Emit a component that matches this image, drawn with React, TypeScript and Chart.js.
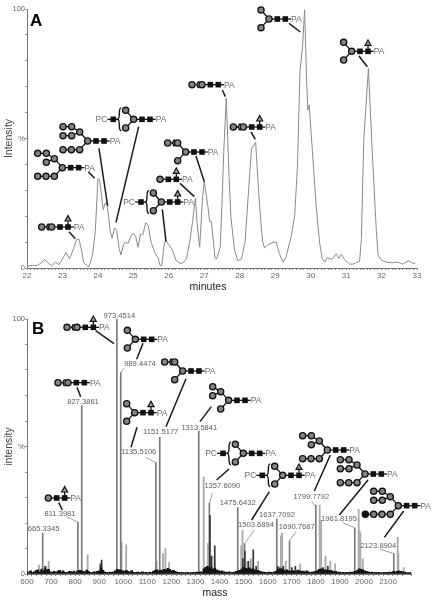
import React, { useEffect, useRef } from "react";
import { Chart, registerables } from "chart.js";

Chart.register(...registerables);

const FONT = '"Liberation Sans", Arial, sans-serif';

// ---------- Panel A: chromatogram ----------
const lcMinutes = [
  22.0, 22.05, 22.15, 22.3, 22.4, 22.5, 22.6, 22.7, 22.8, 22.9, 23.0, 23.1, 23.2, 23.3, 23.4, 23.47, 23.55, 23.6, 23.7, 23.75,
  23.85, 23.93, 24.0, 24.05, 24.1, 24.15, 24.2, 24.25, 24.3, 24.35, 24.4, 24.47, 24.53, 24.6, 24.65, 24.72, 24.78, 24.85, 24.92, 25.0,
  25.07, 25.13, 25.2, 25.27, 25.35, 25.42, 25.5, 25.6, 25.7, 25.75, 25.8, 25.88, 25.93, 26.0, 26.1, 26.2, 26.3, 26.4, 26.5, 26.6,
  26.67, 26.75, 26.8, 26.87, 26.95, 27.0, 27.1, 27.15, 27.2, 27.3, 27.35, 27.45, 27.5, 27.55, 27.62, 27.7, 27.75, 27.85, 27.95, 28.05,
  28.15, 28.25, 28.33, 28.45, 28.53, 28.6, 28.65, 28.7, 28.8, 28.95, 29.03, 29.12, 29.22, 29.3, 29.45, 29.55, 29.63, 29.7, 29.77, 29.83,
  29.88, 29.92, 29.96, 30.05, 30.15, 30.25, 30.33, 30.4, 30.47, 30.6, 30.72, 30.8, 30.87, 30.95, 31.1, 31.2, 31.3, 31.38, 31.43, 31.5,
  31.63, 31.72, 31.85, 31.9, 32.0, 32.15, 32.3, 32.4, 32.5, 32.6, 32.75, 32.85, 32.95,
];
const lcIntensity = [
  0.3, 0.8, 1, 1, 2, 3.2, 2, 0.8, 2.3, 1.3, 3.5, 6, 3.5, 7, 11, 11, 6, 2, 0.8, 0.5,
  5, 15, 34.5, 34, 28, 22.5, 25, 25, 20, 14, 11.5, 15.5, 14.5, 7.5, 5, 9, 10, 9.5, 12, 13.5,
  12, 8, 13, 13, 17.5, 16.5, 10, 6, 4, 1, 1, 10, 10.5, 9, 7, 3, 1.8, 2, 3.5, 11,
  18, 27, 17, 8, 27, 33.5, 24, 18, 18, 4, 3.5, 8, 25, 45, 65.5, 35, 20, 7, 2.8, 3.5,
  10, 30, 46, 48.5, 30, 17, 10, 7.8, 9, 10, 10, 5.5, 2.3, 4, 12, 20, 40, 76, 85, 99.7,
  75, 61, 63, 45, 25, 10, 3.5, 2.3, 4, 3.3, 5.5, 3.8, 5.3, 3.3, 1.5, 1.5, 2.2, 2.5, 11, 50,
  77, 50, 15, 5, 3, 2.2, 2, 2.3, 2, 1.5, 2.8, 2, 1.8,
];

// ---------- Panel B: mass spectrum ----------
const labelledMz = [665.3345, 811.3981, 827.3861, 973.4514, 989.4474, 1135.5106, 1151.5177, 1313.5841, 1357.609, 1475.6432, 1503.6894, 1637.7092, 1690.7687, 1799.7792, 1961.8195, 2123.8904];
const labelledIntensity = [16, 20.3, 66, 100, 79, 43.7, 53.7, 56, 27.7, 26, 11.8, 21.5, 13, 27, 18, 8];
const labelledText = ["665.3345", "811.3981", "827.3861", "973.4514", "989.4474", "1135.5106", "1151.5177", "1313.5841", "1357.6090", "1475.6432", "1503.6894", "1637.7092", "1690.7687", "1799.7792", "1961.8195", "2123.8904"];

const sideMz = [650, 680, 690, 852, 993, 1012, 1138, 1165, 1175, 1190, 1334, 1352, 1370, 1380, 1490, 1495, 1515, 1530, 1540, 1560, 1655, 1660, 1675, 1735, 1816, 1822, 1840, 1860, 1880, 1978, 1982, 1985, 1995, 2140, 2143, 2165];
const sideIntensity = [3.5, 3, 5, 7.5, 12.3, 11.4, 5, 8, 10, 4.5, 38, 12, 7, 4, 11, 17, 5, 6, 4, 5, 15, 16, 5, 4, 27, 21, 7, 5, 4, 25.4, 17, 16, 6, 14.4, 8, 2.5];

const darkMz = [660, 675, 905, 910, 1360, 1365, 1380, 1497, 1505, 1520, 1540, 1552, 1642, 1650, 1665, 1700, 1715, 1830, 1850];
const darkIntensity = [2, 3, 4, 5.5, 23, 7, 11, 6, 9, 5, 9.5, 3, 3, 2.5, 3, 2.5, 3, 2.5, 3];

const noiseMz = [
  600, 607, 615, 622, 630, 638, 645, 653, 660, 668, 675, 683, 690, 698, 705, 713, 720, 728, 735, 743, 750, 758, 765, 773, 780, 788, 795, 803, 810, 818,
  825, 833, 840, 848, 855, 863, 870, 878, 885, 893, 900, 908, 915, 923, 930, 938, 945, 953, 960, 968, 975, 983, 990, 998, 1005, 1013, 1020, 1028, 1035, 1043,
  1050, 1058, 1065, 1073, 1080, 1088, 1095, 1103, 1110, 1118, 1125, 1133, 1140, 1148, 1155, 1163, 1170, 1178, 1185, 1193, 1200, 1208, 1215, 1223, 1230, 1238, 1245, 1253, 1260, 1268,
  1275, 1283, 1290, 1298, 1305, 1313, 1320, 1328, 1335, 1343, 1350, 1358, 1365, 1373, 1380, 1388, 1395, 1403, 1410, 1418, 1425, 1433, 1440, 1448, 1455, 1463, 1470, 1478, 1485, 1493,
  1500, 1508, 1515, 1523, 1530, 1538, 1545, 1553, 1560, 1568, 1575, 1583, 1590, 1598, 1605, 1613, 1620, 1628, 1635, 1643, 1650, 1658, 1665, 1673, 1680, 1688, 1695, 1703, 1710, 1718,
  1725, 1733, 1740, 1748, 1755, 1763, 1770, 1778, 1785, 1793, 1800, 1808, 1815, 1823, 1830, 1838, 1845, 1853, 1860, 1868, 1875, 1883, 1890, 1898, 1905, 1913, 1920, 1928, 1935, 1943,
  1950, 1958, 1965, 1973, 1980, 1988, 1995, 2003, 2010, 2018, 2025, 2033, 2040, 2048, 2055, 2063, 2070, 2078, 2085, 2093, 2100, 2108, 2115, 2123, 2130, 2138, 2145, 2153, 2160, 2168, 2175, 2183, 2190, 2196,
];
const noiseIntensity = [
  1, 0.6, 1.2, 0.7, 0.9, 1.3, 1.6, 0.8, 1.5, 1.2, 2, 1.6, 1.8, 0.9, 0.7, 1, 0.6, 1.1, 1.4, 0.8, 1.2, 0.7, 0.6, 0.9, 1, 0.7, 1.1, 0.6, 1.2, 1.4,
  1.3, 1, 0.9, 1.5, 1, 0.7, 0.6, 0.9, 0.8, 1, 1.2, 2.4, 1.4, 0.9, 0.7, 0.6, 0.8, 0.7, 0.9, 1.3, 1.8, 1.6, 1.5, 1.2, 1.1, 1.4, 1, 0.8, 1.3, 0.7,
  0.6, 0.8, 0.7, 0.6, 0.9, 0.6, 0.7, 0.5, 0.8, 0.6, 1, 1.4, 1.6, 1.2, 1.5, 1.3, 1.8, 1.6, 2.2, 1.8, 1.2, 1.4, 1, 0.8, 0.7, 0.6, 0.7, 0.5, 0.6, 0.7,
  0.5, 0.6, 0.7, 0.6, 0.8, 0.7, 0.9, 0.8, 2, 2.6, 3, 2.2, 2.5, 1.8, 2.2, 1.6, 1.3, 1, 1.2, 0.9, 0.8, 0.7, 0.9, 0.6, 0.7, 0.8, 1, 1.2, 1.4, 2,
  2.5, 2.2, 2, 2.4, 1.8, 2, 1.6, 1.3, 1.4, 1, 0.9, 0.8, 0.7, 0.6, 0.8, 0.7, 0.6, 0.9, 1, 1.6, 1.8, 2, 1.5, 1.3, 1.6, 1.2, 1, 1.3, 1.1, 0.9,
  1.5, 1.2, 1, 1.1, 0.9, 1.2, 0.8, 0.7, 0.8, 0.9, 1, 1.4, 1.8, 2, 1.8, 1.5, 1.6, 1.3, 1.4, 1.2, 0.9, 1, 0.7, 0.8, 0.6, 0.7, 0.6, 0.7, 0.6, 0.8,
  0.7, 0.9, 1, 1.4, 2, 1.8, 1.6, 1.2, 1, 0.9, 0.7, 0.8, 0.6, 0.7, 0.6, 0.7, 0.5, 0.6, 0.7, 0.6, 0.7, 0.8, 0.7, 1, 0.9, 1, 1.2, 1, 0.9, 0.8, 0.6, 0.5, 0.6, 0.5,
];

// ---------- Glycan drawings (annotation artwork; units are reference px x3, offsets from the branching hexose) ----------
type N = [number, number, number, boolean?];
const T: Record<string, N[]> = {
  none: [],
  bracketLeft: [[-30, 0, -2]],
  y: [[-24, -27, -1], [-24, 26, -1]],
  yBracket: [[-24, -27, -1], [-54, -27, -2], [-24, 26, -1]],
  man5: [[-24, -26, -1], [-48, -41, 0], [-48, -14, 0], [-24, 26, -1]],
  tri2: [[-24, -27, -1], [-48, -43, 0], [-74, -43, 1], [-48, -16, 0], [-24, 26, -1], [-49, 26, 4], [-74, 26, 5]],
  tri3: [[-24, -27, -1], [-48, -43, 0], [-74, -43, 1], [-48, -16, 0], [-74, -16, 3], [-24, 26, -1], [-49, 26, 5], [-74, 26, 6]],
  tri4: [[-24, -27, -1], [-48, -43, 0], [-74, -43, 1], [-48, -16, 0], [-74, -16, 3], [-24, 26, -1], [-49, 26, 5], [-74, 26, 6], [-99, 26, 7, true]],
};
type Gly = { o: [number, number]; t: string; fuc?: boolean; pc?: boolean; leader: [number, number, number, number] };
const glycansA: Gly[] = [
  { o: [155, 681], t: "bracketLeft", fuc: true, leader: [207, 695, 226, 716] },
  { o: [187, 503], t: "tri2", leader: [265, 515, 284, 535] },
  { o: [263, 423], t: "tri3", leader: [297, 445, 323, 618] },
  { o: [401, 358], t: "y", pc: true, leader: [416, 380, 348, 667] },
  { o: [484, 606], t: "y", pc: true, fuc: true, leader: [487, 628, 498, 725] },
  { o: [480, 538], t: "none", fuc: true, leader: [540, 550, 583, 590] },
  { o: [557, 456], t: "yBracket", leader: [588, 468, 613, 545] },
  { o: [606, 254], t: "bracketLeft", leader: [667, 270, 676, 290] },
  { o: [730, 381], t: "bracketLeft", fuc: true, leader: [753, 396, 766, 418] },
  { o: [807, 57], t: "y", leader: [867, 70, 901, 96] },
  { o: [1055, 154], t: "y", fuc: true, leader: [1077, 168, 1102, 200] },
];
const glycansB: Gly[] = [
  { o: [231, 82], t: "bracketLeft", fuc: true, leader: [287, 92, 342, 131] },
  { o: [406, 118], t: "y", leader: [429, 130, 410, 178] },
  { o: [204, 248], t: "bracketLeft", leader: [231, 262, 242, 290] },
  { o: [404, 338], t: "y", fuc: true, leader: [411, 382, 393, 442] },
  { o: [548, 213], t: "yBracket", leader: [558, 236, 498, 380] },
  { o: [145, 594], t: "none", fuc: true, leader: [176, 607, 187, 630] },
  { o: [686, 301], t: "man5", leader: [634, 320, 600, 365] },
  { o: [730, 460], t: "y", pc: true, leader: [687, 507, 650, 540] },
  { o: [848, 526], t: "y", pc: true, fuc: true, leader: [808, 575, 755, 660] },
  { o: [982, 450], t: "tri2", leader: [991, 465, 943, 573] },
  { o: [1095, 522], t: "tri3", leader: [1104, 540, 1018, 645] },
  { o: [1195, 617], t: "tri4", leader: [1211, 633, 1153, 712] },
];
// label centre and optional thin leader, in the same order as labelledText
const labelSpots: [number, number, number[]?][] = [
  [131, 688], [180, 641, [235, 667, 200, 650]], [249, 306], [358, 47], [420, 193, [361, 220, 372, 205]],
  [416, 456, [467, 488, 437, 472]], [482, 396], [598, 383], [667, 559, [628, 612, 637, 578]], [713, 608],
  [768, 675, [733, 732, 763, 690]], [831, 644], [890, 681, [868, 722, 888, 695]], [934, 592, [947, 620, 935, 604]],
  [1017, 657, [1064, 683, 1028, 668]], [1135, 738, [1180, 760, 1140, 748]],
];

const INK = "#141414";
const GREY = "#6e6e6e";

function drawBrace(c: CanvasRenderingContext2D, x: number, y: number, h: number) {
  c.beginPath();
  c.moveTo(x + 2, y - h);
  c.quadraticCurveTo(x, y - h, x, y - h / 2);
  c.quadraticCurveTo(x, y, x - 2, y);
  c.quadraticCurveTo(x, y, x, y + h / 2);
  c.quadraticCurveTo(x, y + h, x + 2, y + h);
  c.lineWidth = 1.4;
  c.strokeStyle = INK;
  c.stroke();
}
function seg(c: CanvasRenderingContext2D, a: number, b: number, d: number, e: number, lw = 1.3, col = INK) {
  c.beginPath();
  c.moveTo(a, b);
  c.lineTo(d, e);
  c.lineWidth = lw;
  c.strokeStyle = col;
  c.stroke();
}
function circle(c: CanvasRenderingContext2D, x: number, y: number, dark?: boolean) {
  c.beginPath();
  c.arc(x, y, 3.1, 0, Math.PI * 2);
  c.fillStyle = dark ? "#111" : "#858585";
  c.fill();
  c.lineWidth = 1.3;
  c.strokeStyle = INK;
  c.stroke();
}
function square(c: CanvasRenderingContext2D, x: number, y: number) {
  c.fillStyle = "#111";
  c.fillRect(x - 2.8, y - 2.8, 5.6, 5.6);
}
function drawGlycan(c: CanvasRenderingContext2D, g: Gly) {
  const u = (v: number) => v / 3;
  const ox = u(g.o[0]);
  const oy = u(g.o[1]);
  const nodes = T[g.t];
  const pos = nodes.map((n) => [ox + u(n[0]), oy + u(n[1])]);
  seg(c, ox, oy, ox + u(66), oy);
  nodes.forEach((n, i) => {
    if (n[2] === -1) seg(c, ox, oy, pos[i][0], pos[i][1]);
    else if (n[2] >= 0) seg(c, pos[n[2]][0], pos[n[2]][1], pos[i][0], pos[i][1]);
    else {
      const right = g.t === "yBracket" ? pos[0] : [ox, oy];
      drawBrace(c, (pos[i][0] + right[0]) / 2 + 0.6, pos[i][1], 3);
    }
  });
  nodes.forEach((n, i) => circle(c, pos[i][0], pos[i][1], n[3]));
  circle(c, ox, oy);
  square(c, ox + u(25), oy);
  square(c, ox + u(49), oy);
  if (g.fuc) {
    const tx = ox + u(49);
    const ty = oy - 8;
    seg(c, tx, oy, tx, ty);
    c.beginPath();
    c.moveTo(tx, ty - 3.4);
    c.lineTo(tx + 3, ty + 2);
    c.lineTo(tx - 3, ty + 2);
    c.closePath();
    c.fillStyle = "#a0a0a0";
    c.fill();
    c.lineWidth = 1.2;
    c.strokeStyle = INK;
    c.stroke();
  }
  c.font = `8.5px ${FONT}`;
  c.fillStyle = GREY;
  c.textBaseline = "middle";
  c.textAlign = "left";
  c.fillText("PA", ox + u(66), oy + 0.5);
  if (g.pc) {
    seg(c, ox + u(-61), oy, ox + u(-79), oy);
    seg(c, ox + u(-61), oy, ox + u(-45), oy);
    drawBrace(c, ox + u(-43), oy, 11.5);
    square(c, ox + u(-61), oy);
    c.textAlign = "right";
    c.fillStyle = GREY;
    c.fillText("PC", ox + u(-79), oy + 0.5);
  }
  const l = g.leader;
  seg(c, u(l[0]), u(l[1]), u(l[2]), u(l[3]), 1.5, "#1a1a1a");
}

function annotate(letter: string, lx: number, ly: number, glycans: Gly[], withLabels: boolean, axisTitle: string, tx: number, ty: number) {
  return {
    id: "annot",
    afterDraw(chart: Chart) {
      const c = chart.ctx;
      c.save();
      if (withLabels) {
        c.font = `7.6px ${FONT}`;
        c.textAlign = "center";
        c.textBaseline = "middle";
        labelSpots.forEach((s, i) => {
          c.fillStyle = "#5c5c5c";
          c.fillText(labelledText[i], s[0] / 3, s[1] / 3);
          const t = s[2];
          if (t) seg(c, t[0] / 3, t[1] / 3, t[2] / 3, t[3] / 3, 0.7, "#777");
        });
      }
      glycans.forEach((g) => drawGlycan(c, g));
      c.fillStyle = "#000";
      c.font = `bold 17px ${FONT}`;
      c.textAlign = "left";
      c.textBaseline = "alphabetic";
      c.fillText(letter, lx, ly);
      c.fillStyle = "#222";
      c.font = `10.5px ${FONT}`;
      c.textAlign = "center";
      c.textBaseline = "middle";
      c.fillText(axisTitle, tx, ty);
      c.restore();
    },
  };
}

function yScale(title: string) {
  return {
    type: "linear",
    min: 0,
    max: 100,
    afterFit: (s: any) => {
      s.width = 27;
    },
    border: { color: "#777", width: 1 },
    grid: { drawOnChartArea: false, tickLength: 2, color: "#999" },
    ticks: {
      stepSize: 10,
      autoSkip: false,
      padding: 0,
      color: "#666",
      font: { family: FONT, size: 7.5 },
      callback: (v: number) => (v === 0 ? "0" : v === 50 ? "%" : v === 100 ? "100" : ""),
    },
    title: { display: true, text: title, color: "#444", font: { family: FONT, size: 10.5 }, padding: { top: 3, bottom: 0 } },
  };
}
function xScale(min: number, max: number, step: number, major: number, height: number) {
  return {
    type: "linear",
    min,
    max,
    offset: false,
    afterFit: (s: any) => {
      s.height = height;
    },
    border: { color: "#777", width: 1 },
    grid: { drawOnChartArea: false, tickLength: 2, color: "#888", offset: false },
    ticks: {
      stepSize: step,
      autoSkip: false,
      maxRotation: 0,
      minRotation: 0,
      maxTicksLimit: 300,
      padding: 1,
      color: "#666",
      font: { family: FONT, size: 8 },
      callback: (v: number) => {
        const r = Math.round(v / major) * major;
        return Math.abs(v - r) < 1e-6 ? String(r) : "";
      },
    },
  };
}
const pts = (xs: number[], ys: number[]) => xs.map((x, i) => ({ x, y: ys[i] }));

export default function App() {
  const a = useRef<HTMLCanvasElement>(null);
  const b = useRef<HTMLCanvasElement>(null);
  useEffect(() => {
    document.body.style.margin = "0";
    document.body.style.background = "#fff";
    const ca = new Chart(a.current!, {
      type: "line",
      data: {
        datasets: [
          { data: pts(lcMinutes, lcIntensity), borderColor: "#8a8a8a", borderWidth: 1, pointRadius: 0, tension: 0, fill: false },
        ],
      },
      options: {
        responsive: false,
        animation: false,
        layout: { padding: { top: 9, right: 18, bottom: 8, left: 0 } },
        plugins: { legend: { display: false }, tooltip: { enabled: false } },
        scales: { x: xScale(22, 33, 0.1, 1, 24), y: yScale("Intensity") },
      } as any,
      plugins: [annotate("A", 30, 26, glycansA, false, "minutes", 208, 287)],
    });
    const bar = (data: any, color: string, w: number) => ({
      type: "bar",
      data,
      backgroundColor: color,
      barThickness: w,
      grouped: false,
    });
    const cb = new Chart(b.current!, {
      type: "bar",
      data: {
        datasets: [
          bar(pts(noiseMz, noiseIntensity), "#141414", 2),
          bar(pts(darkMz, darkIntensity), "#333", 1),
          bar(pts(labelledMz, labelledIntensity), "#7a7a7a", 1),
          bar(pts(sideMz, sideIntensity), "#ababab", 1.2),
        ] as any,
      },
      options: {
        responsive: false,
        animation: false,
        layout: { padding: { top: 19, right: 23.6, bottom: 3, left: 0 } },
        plugins: { legend: { display: false }, tooltip: { enabled: false } },
        scales: { x: xScale(600, 2197, 20, 100, 24), y: yScale("intensity") },
      } as any,
      plugins: [annotate("B", 32, 34, glycansB, true, "mass", 215, 293)],
    });
    return () => {
      ca.destroy();
      cb.destroy();
    };
  }, []);
  return (
    <div style={{ position: "absolute", left: 0, top: 0, width: 435, height: 601, background: "#fff" }}>
      <canvas ref={a} width={435} height={300} style={{ position: "absolute", left: 0, top: 0, display: "block" }} />
      <canvas ref={b} width={435} height={301} style={{ position: "absolute", left: 0, top: 300, display: "block" }} />
    </div>
  );
}
